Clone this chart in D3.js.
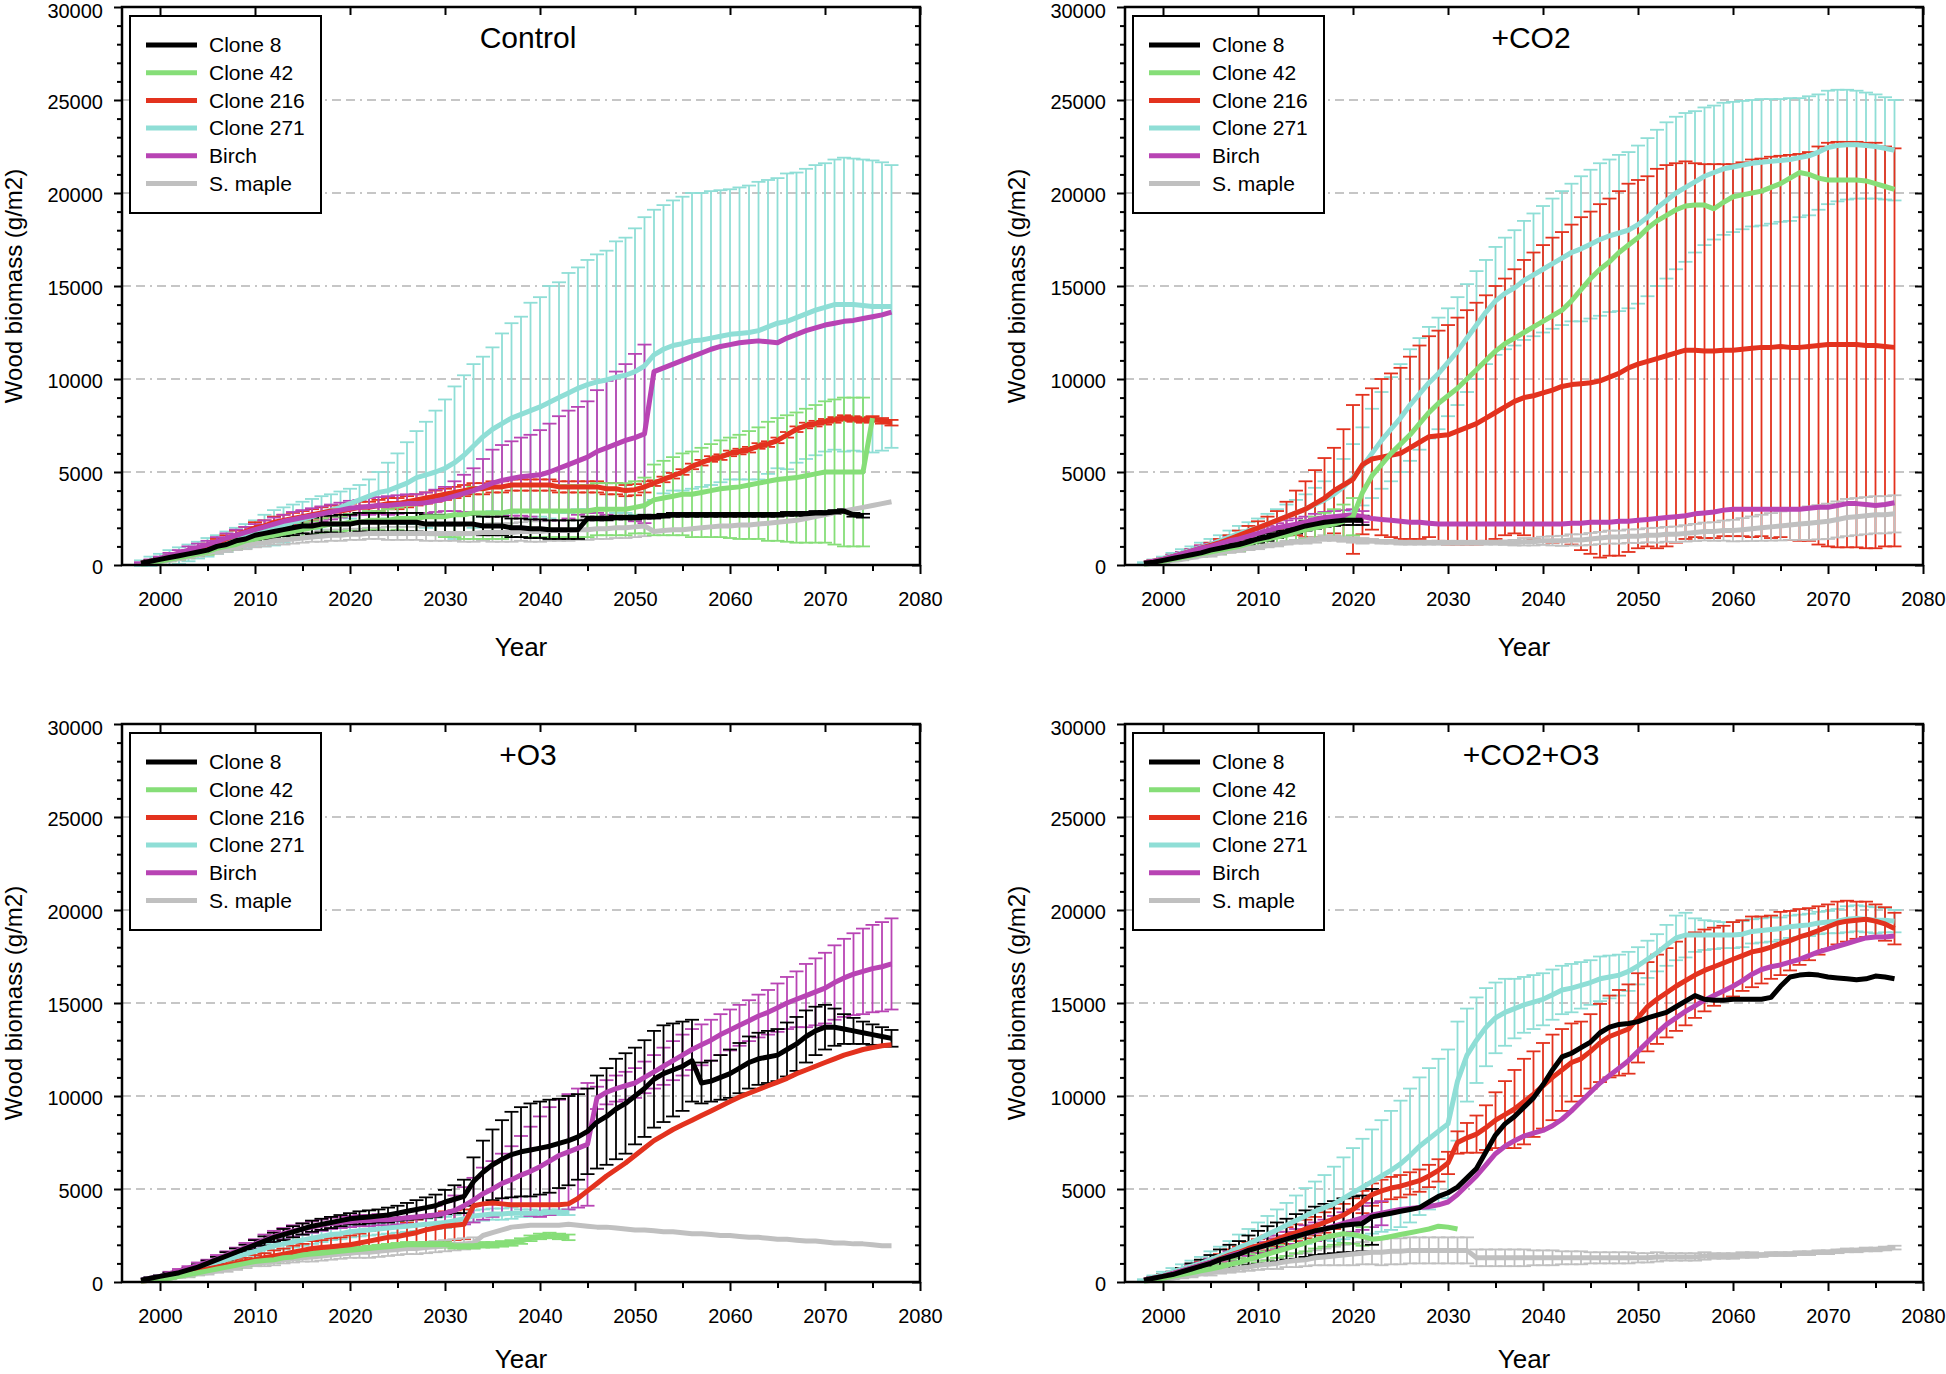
<!DOCTYPE html>
<html>
<head>
<meta charset="utf-8">
<title>Wood biomass</title>
<style>
  body { margin: 0; background: #fff; }
  svg text { font-family: "Liberation Sans", Arial, Helvetica, sans-serif; }
</style>
</head>
<body>
<script src="https://cdnjs.cloudflare.com/ajax/libs/d3/7.8.5/d3.min.js"></script>
<script>
// one value per year starting 1998, in 1000 g/m2 ; *_sd = half height of the error bar
// a series stops where its array stops
var firstYear = 1998;
var seriesNames = ["Clone 8", "Clone 42", "Clone 216", "Clone 271", "Birch", "S. maple"];
var seriesColors = ["#000000", "#86de78", "#e3321e", "#8fded6", "#b844b4", "#c0c0c0"];
var panelTitles = ["Control", "+CO2", "+O3", "+CO2+O3"];
var yMajor = [0, 5000, 10000, 15000, 20000, 25000, 30000];
var gridVals = [5000, 10000, 15000, 20000, 25000];
var xMajor = [2000, 2010, 2020, 2030, 2040, 2050, 2060, 2070, 2080];
var xMinor = [2005, 2015, 2025, 2035, 2045, 2055, 2065, 2075];

// ---------- Control ----------
var ctl_c8 = [0.1,0.2,0.3,0.4,0.5,0.6,0.7,0.8,1.0,1.1,
  1.3,1.4,1.6,1.7,1.8,1.9,2.0,2.1,2.1,2.2,
  2.2,2.2,2.2,2.3,2.3,2.3,2.3,2.3,2.3,2.3,
  2.2,2.2,2.2,2.2,2.2,2.2,2.1,2.1,2.1,2.0,
  2.0,1.95,1.95,1.9,1.9,1.9,1.9,2.5,2.5,2.5,
  2.55,2.55,2.55,2.6,2.6,2.65,2.7,2.7,2.7,2.7,
  2.7,2.7,2.7,2.7,2.7,2.7,2.7,2.7,2.75,2.75,
  2.75,2.8,2.8,2.85,2.9,2.7,2.65];
var ctl_c8_sd = [0,0.05,0.05,0.1,0.1,0.1,0.15,0.15,0.2,0.2,
  0.25,0.25,0.3,0.3,0.35,0.35,0.4,0.4,0.45,0.45,
  0.45,0.5,0.5,0.5,0.5,0.5,0.5,0.5,0.5,0.5,
  0.5,0.5,0.5,0.5,0.5,0.5,0.5,0.5,0.5,0.5,
  0.5,0.5,0.5,0.5,0.5,0.5,0.5,0.1,0.1,0.1,
  0.1,0.1,0.1,0.1,0.1,0.1,0.1,0.1,0.1,0.1,
  0.1,0.1,0.1,0.1,0.1,0.1,0.1,0.1,0.1,0.1,
  0.1,0.1,0.1,0.1,0.1,0.1,0.1];
var ctl_c42 = [0.05,0.1,0.2,0.3,0.4,0.5,0.6,0.7,0.9,1.0,
  1.1,1.3,1.4,1.5,1.6,1.7,1.8,1.9,2.0,2.1,
  2.2,2.2,2.3,2.3,2.4,2.4,2.4,2.5,2.5,2.5,
  2.6,2.6,2.6,2.7,2.7,2.8,2.8,2.8,2.8,2.9,
  2.9,2.9,2.9,2.9,2.9,2.9,2.9,2.9,3.0,3.0,
  3.0,3.0,3.1,3.2,3.5,3.6,3.7,3.8,3.8,3.9,
  4.0,4.1,4.15,4.2,4.3,4.4,4.5,4.6,4.65,4.7,
  4.8,4.9,5.0,5.0,5.0,5.0,5.0,7.9];
var ctl_c42_sd = [0,0.05,0.05,0.1,0.1,0.1,0.1,0.15,0.15,0.2,
  0.2,0.2,0.25,0.25,0.3,0.3,0.3,0.35,0.35,0.4,
  0.4,0.4,0.45,0.5,0.5,0.5,0.6,0.6,0.7,0.8,
  0.9,1.0,1.1,1.2,1.3,1.4,1.4,1.4,1.4,1.4,
  1.4,1.4,1.4,1.4,1.4,1.4,1.4,1.4,1.4,1.4,
  1.4,1.4,1.4,1.5,1.9,2.0,2.1,2.2,2.3,2.4,
  2.5,2.6,2.7,2.8,2.9,3.0,3.2,3.3,3.4,3.5,
  3.6,3.7,3.8,3.9,4.0,4.0,4.0];
var ctl_c216 = [0.1,0.2,0.3,0.4,0.5,0.7,0.8,1.0,1.2,1.4,
  1.6,1.8,2.0,2.1,2.3,2.4,2.5,2.6,2.7,2.8,
  2.9,2.9,3.0,3.1,3.1,3.2,3.3,3.3,3.4,3.5,
  3.6,3.7,3.8,3.9,4.0,4.1,4.1,4.2,4.2,4.3,
  4.3,4.3,4.3,4.3,4.2,4.2,4.2,4.2,4.2,4.1,
  4.1,4.0,4.05,4.2,4.4,4.6,4.8,5.0,5.3,5.5,
  5.7,5.8,6.0,6.1,6.2,6.4,6.5,6.7,7.0,7.3,
  7.5,7.6,7.7,7.8,7.9,7.85,7.8,7.85,7.75,7.65];
var ctl_c216_sd = [0,0.05,0.05,0.1,0.1,0.1,0.15,0.15,0.2,0.2,
  0.25,0.25,0.3,0.3,0.3,0.3,0.3,0.3,0.3,0.3,
  0.3,0.3,0.3,0.3,0.3,0.3,0.3,0.3,0.3,0.3,
  0.3,0.3,0.3,0.3,0.3,0.3,0.3,0.3,0.3,0.3,
  0.3,0.3,0.3,0.3,0.3,0.3,0.3,0.3,0.3,0.3,
  0.3,0.3,0.3,0.3,0.15,0.15,0.15,0.15,0.15,0.15,
  0.15,0.15,0.15,0.15,0.15,0.15,0.15,0.15,0.15,0.15,
  0.15,0.15,0.15,0.15,0.15,0.15,0.15,0.15,0.15,0.15];
var ctl_c271 = [0.1,0.2,0.3,0.4,0.5,0.65,0.8,0.95,1.1,1.25,
  1.4,1.55,1.7,1.85,2.0,2.15,2.3,2.45,2.6,2.8,
  2.95,3.1,3.3,3.5,3.7,3.9,4.0,4.2,4.4,4.7,
  4.85,5.0,5.2,5.5,5.9,6.4,6.9,7.3,7.6,7.9,
  8.1,8.3,8.5,8.75,9.0,9.25,9.5,9.7,9.85,9.95,
  10.1,10.2,10.4,10.7,11.3,11.6,11.8,11.9,12.05,12.1,
  12.2,12.3,12.4,12.45,12.5,12.6,12.8,13.0,13.1,13.3,
  13.5,13.7,13.85,14.0,14.0,14.0,13.95,13.9,13.9,13.9];
var ctl_c271_sd = [0.15,0.25,0.3,0.4,0.45,0.45,0.45,0.5,0.5,0.55,
  0.6,0.65,0.7,0.85,0.95,0.95,0.95,0.95,0.95,0.9,
  0.85,0.85,0.8,0.8,0.9,1.1,1.5,1.8,2.2,2.5,
  2.85,3.3,3.7,4.1,4.3,4.4,4.3,4.4,4.85,5.1,
  5.25,5.8,5.9,6.25,6.2,6.45,6.5,6.7,6.85,6.95,
  7.3,7.4,7.7,8.0,7.8,7.75,7.8,7.9,7.95,7.9,
  7.9,7.85,7.8,7.85,7.9,8.0,7.9,7.8,7.95,7.8,
  7.8,7.8,7.75,7.8,7.9,7.85,7.85,7.85,7.75,7.6];
var ctl_b = [0.1,0.2,0.35,0.5,0.65,0.8,0.95,1.1,1.25,1.45,
  1.6,1.75,1.9,2.05,2.2,2.35,2.45,2.55,2.65,2.75,
  2.85,2.95,3.05,3.1,3.15,3.2,3.2,3.25,3.3,3.3,
  3.35,3.45,3.55,3.7,3.85,4.0,4.2,4.4,4.55,4.65,
  4.75,4.8,4.85,5.0,5.2,5.4,5.6,5.8,6.1,6.3,
  6.5,6.7,6.85,7.05,10.4,10.6,10.8,11.0,11.2,11.4,
  11.6,11.75,11.85,11.95,12.0,12.05,12.0,11.95,12.2,12.4,
  12.6,12.75,12.9,13.0,13.1,13.15,13.25,13.35,13.45,13.6];
var ctl_b_sd = [0.05,0.1,0.1,0.15,0.15,0.2,0.2,0.2,0.25,0.25,
  0.3,0.3,0.3,0.35,0.35,0.35,0.4,0.4,0.4,0.4,
  0.4,0.4,0.4,0.4,0.45,0.45,0.5,0.5,0.5,0.5,
  0.55,0.6,0.65,0.8,1.0,1.2,1.5,1.8,1.9,2.0,
  2.1,2.2,2.4,2.6,2.8,2.9,2.9,3.0,3.3,3.6,
  3.9,4.1,4.5,4.8];
var ctl_m = [0.05,0.1,0.2,0.25,0.35,0.45,0.55,0.65,0.75,0.85,
  0.95,1.05,1.15,1.2,1.3,1.35,1.4,1.45,1.5,1.55,
  1.6,1.6,1.65,1.65,1.7,1.7,1.7,1.7,1.7,1.7,
  1.7,1.7,1.7,1.7,1.7,1.7,1.75,1.75,1.75,1.75,
  1.8,1.8,1.8,1.85,1.85,1.85,1.9,1.9,1.95,1.95,
  2.0,2.0,2.05,2.1,1.8,1.85,1.9,1.9,1.95,2.0,
  2.05,2.1,2.1,2.15,2.15,2.2,2.25,2.3,2.35,2.4,
  2.5,2.6,2.7,2.8,2.9,3.0,3.1,3.2,3.3,3.4];
var ctl_m_sd = [0,0.05,0.05,0.05,0.1,0.1,0.1,0.1,0.15,0.15,
  0.15,0.2,0.2,0.2,0.2,0.25,0.25,0.25,0.25,0.3,
  0.3,0.3,0.3,0.3,0.3,0.3,0.35,0.35,0.35,0.35,
  0.4,0.4,0.4,0.4,0.45,0.45,0.45,0.5,0.5,0.5,
  0.5,0.55,0.55,0.55,0.55,0.55,0.55,0.55,0.55,0.55,
  0.55,0.55,0.55,0.55];

// ---------- +CO2 ----------
var co2_c8 = [0.1,0.15,0.25,0.35,0.45,0.55,0.65,0.8,0.9,1.0,
  1.1,1.25,1.4,1.5,1.65,1.8,1.95,2.1,2.2,2.3,
  2.35,2.4,2.4,2.4];
var co2_c8_sd = [0,0.05,0.05,0.05,0.1,0.1,0.1,0.1,0.15,0.15,
  0.15,0.15,0.2,0.2,0.2,0.2,0.25,0.25,0.25,0.25,
  0.25,0.25,0.25,0.25];
var co2_c42 = [0.05,0.1,0.2,0.3,0.4,0.5,0.6,0.7,0.8,0.9,
  1.0,1.15,1.3,1.4,1.5,1.6,1.75,1.9,2.0,2.1,
  2.2,2.35,2.6,3.9,4.8,5.4,6.0,6.5,7.0,7.6,
  8.2,8.7,9.1,9.5,10.0,10.5,11.0,11.5,11.9,12.2,
  12.5,12.8,13.1,13.4,13.7,14.2,14.8,15.4,15.9,16.3,
  16.8,17.2,17.6,18.1,18.5,18.8,19.1,19.3,19.35,19.35,
  19.15,19.5,19.8,19.9,20.0,20.1,20.3,20.5,20.8,21.1,
  21.0,20.8,20.7,20.7,20.7,20.7,20.65,20.5,20.35,20.2];
var co2_c42_sd = [0,0.05,0.05,0.1,0.1,0.1,0.15,0.15,0.2,0.2,
  0.25,0.25,0.3,0.3,0.35,0.4,0.45,0.5,0.6,0.7,
  0.8,0.9,1.0];
var co2_c216 = [0.1,0.2,0.3,0.45,0.6,0.75,0.9,1.05,1.2,1.4,
  1.6,1.8,2.0,2.2,2.4,2.6,2.8,3.0,3.3,3.6,
  4.0,4.3,4.6,5.4,5.7,5.8,5.9,6.0,6.3,6.6,
  6.9,6.95,7.0,7.2,7.4,7.6,7.9,8.2,8.5,8.8,
  9.0,9.1,9.25,9.4,9.6,9.7,9.75,9.8,9.9,10.1,
  10.3,10.6,10.8,10.95,11.1,11.25,11.4,11.55,11.55,11.5,
  11.5,11.55,11.55,11.6,11.65,11.7,11.7,11.75,11.7,11.7,
  11.75,11.8,11.85,11.85,11.85,11.85,11.8,11.8,11.75,11.7];
var co2_c216_sd = [0,0.05,0.05,0.1,0.1,0.1,0.15,0.15,0.2,0.2,
  0.25,0.3,0.35,0.4,0.5,0.8,1.2,1.5,1.8,2.15,
  2.3,3.0,4.0,3.75,3.8,4.2,4.4,4.6,4.9,5.2,
  5.4,5.65,5.9,6.1,6.3,6.5,6.6,6.8,6.9,7.1,
  7.4,7.7,7.95,8.2,8.3,8.6,8.95,9.2,9.5,9.6,
  9.8,9.9,9.9,9.95,10.2,10.25,10.2,10.15,10.05,10.05,
  10.05,10.0,10.0,10.05,10.15,10.15,10.25,10.25,10.35,10.4,
  10.45,10.7,10.85,10.9,10.9,10.9,10.9,10.9,10.75,10.7];
var co2_c271 = [0.1,0.2,0.35,0.5,0.65,0.8,0.95,1.1,1.3,1.5,
  1.7,1.85,2.0,2.2,2.4,2.6,2.8,3.0,3.25,3.5,
  3.8,4.2,4.7,5.3,6.0,6.7,7.3,7.9,8.6,9.2,
  9.8,10.3,10.9,11.5,12.2,12.9,13.6,14.2,14.6,14.9,
  15.3,15.6,15.9,16.2,16.5,16.8,17.0,17.25,17.5,17.7,
  17.85,18.0,18.3,18.7,19.2,19.6,20.0,20.3,20.6,20.9,
  21.1,21.3,21.4,21.5,21.6,21.65,21.7,21.75,21.8,21.9,
  22.0,22.2,22.45,22.55,22.6,22.6,22.55,22.5,22.4,22.3];
var co2_c271_sd = [0.05,0.1,0.1,0.15,0.2,0.2,0.25,0.3,0.3,0.35,
  0.4,0.45,0.5,0.55,0.6,0.65,0.7,0.8,0.9,1.0,
  1.2,1.5,1.8,2.1,2.4,2.6,2.8,2.9,3.0,3.0,
  3.0,3.0,2.9,2.9,2.9,2.9,2.8,2.9,3.0,3.1,
  3.2,3.3,3.4,3.5,3.6,3.7,3.9,4.0,4.1,4.1,
  4.2,4.2,4.25,4.25,4.2,4.2,4.1,4.0,3.8,3.7,
  3.6,3.55,3.5,3.45,3.4,3.4,3.35,3.3,3.3,3.2,
  3.2,3.1,3.05,3.0,2.95,2.9,2.85,2.8,2.75,2.7];
var co2_b = [0.1,0.2,0.3,0.45,0.6,0.75,0.9,1.0,1.15,1.3,
  1.4,1.55,1.7,1.85,2.0,2.1,2.2,2.3,2.45,2.55,
  2.6,2.65,2.7,2.6,2.5,2.45,2.4,2.35,2.3,2.3,
  2.25,2.2,2.2,2.2,2.2,2.2,2.2,2.2,2.2,2.2,
  2.2,2.2,2.2,2.2,2.2,2.25,2.25,2.3,2.3,2.3,
  2.35,2.35,2.4,2.45,2.5,2.55,2.6,2.65,2.75,2.8,
  2.85,2.95,3.0,3.0,3.0,3.0,3.0,3.0,3.0,3.0,
  3.05,3.1,3.1,3.2,3.3,3.3,3.25,3.2,3.25,3.35];
var co2_b_sd = [0,0.05,0.05,0.1,0.1,0.1,0.15,0.15,0.15,0.2,
  0.2,0.2,0.25,0.25,0.25,0.3,0.3,0.3,0.3,0.3,
  0.3,0.3,0.3,0.3];
var co2_m = [0.05,0.1,0.15,0.25,0.3,0.4,0.5,0.55,0.65,0.75,
  0.8,0.9,0.95,1.05,1.1,1.2,1.25,1.3,1.35,1.45,
  1.45,1.4,1.35,1.3,1.3,1.25,1.25,1.2,1.2,1.2,
  1.2,1.2,1.2,1.2,1.2,1.2,1.2,1.2,1.2,1.2,
  1.25,1.25,1.3,1.3,1.3,1.35,1.35,1.4,1.45,1.5,
  1.5,1.55,1.55,1.6,1.6,1.65,1.65,1.7,1.75,1.8,
  1.8,1.85,1.85,1.9,1.95,2.0,2.05,2.1,2.15,2.2,
  2.25,2.3,2.35,2.45,2.55,2.6,2.65,2.7,2.7,2.75];
var co2_m_sd = [0,0.03,0.05,0.05,0.05,0.05,0.05,0.1,0.1,0.1,
  0.1,0.1,0.1,0.1,0.1,0.1,0.1,0.15,0.15,0.15,
  0.15,0.15,0.15,0.15,0.1,0.1,0.1,0.1,0.1,0.1,
  0.1,0.1,0.1,0.1,0.1,0.1,0.1,0.1,0.12,0.15,
  0.2,0.2,0.22,0.25,0.27,0.3,0.3,0.32,0.33,0.35,
  0.35,0.36,0.37,0.38,0.4,0.4,0.42,0.44,0.46,0.48,
  0.5,0.54,0.58,0.62,0.66,0.7,0.74,0.78,0.8,0.85,
  0.9,0.92,0.95,0.97,1.0,1.0,1.0,1.0,1.0,1.0];

// ---------- +O3 ----------
var o3_c8 = [0.1,0.2,0.3,0.4,0.5,0.65,0.8,1.0,1.2,1.4,
  1.6,1.8,2.0,2.2,2.4,2.55,2.7,2.85,3.0,3.1,
  3.2,3.3,3.4,3.45,3.5,3.55,3.6,3.7,3.8,3.9,
  4.0,4.1,4.3,4.45,4.6,5.4,5.9,6.3,6.6,6.85,
  7.0,7.1,7.2,7.3,7.45,7.6,7.8,8.1,8.6,8.9,
  9.3,9.6,10.0,10.4,10.9,11.2,11.4,11.6,11.9,10.7,
  10.8,11.0,11.2,11.5,11.8,12.0,12.1,12.2,12.5,12.8,
  13.2,13.5,13.7,13.7,13.6,13.5,13.4,13.3,13.2,13.1];
var o3_c8_sd = [0,0.05,0.05,0.1,0.1,0.1,0.15,0.15,0.15,0.2,
  0.2,0.2,0.25,0.25,0.25,0.3,0.3,0.3,0.3,0.3,
  0.3,0.3,0.3,0.35,0.35,0.35,0.4,0.4,0.45,0.5,
  0.55,0.6,0.65,0.75,0.9,1.3,1.7,1.9,2.1,2.3,
  2.4,2.5,2.5,2.5,2.4,2.4,2.3,2.3,2.5,2.6,
  2.7,2.7,2.6,2.6,2.6,2.6,2.5,2.4,2.2,1.1,
  1.1,1.2,1.3,1.35,1.4,1.4,1.4,1.4,1.45,1.45,
  1.4,1.3,1.2,1.0,0.8,0.7,0.6,0.55,0.5,0.45];
var o3_c42 = [0.05,0.1,0.15,0.2,0.3,0.4,0.5,0.6,0.7,0.8,
  0.9,1.0,1.1,1.15,1.2,1.3,1.35,1.45,1.5,1.55,
  1.6,1.65,1.7,1.75,1.8,1.85,1.9,1.95,2.0,2.0,
  2.0,2.0,2.0,1.95,1.95,1.95,2.0,2.0,2.05,2.1,
  2.2,2.35,2.45,2.5,2.45,2.4];
var o3_c42_sd = [0,0.03,0.05,0.05,0.05,0.1,0.1,0.1,0.1,0.1,
  0.15,0.15,0.15,0.15,0.15,0.15,0.15,0.15,0.15,0.15,
  0.15,0.15,0.15,0.15,0.15,0.15,0.15,0.15,0.15,0.15,
  0.15,0.15,0.15,0.15,0.15,0.15,0.15,0.15,0.15,0.15,
  0.15,0.15,0.15,0.15,0.15,0.15];
var o3_c216 = [0.05,0.1,0.2,0.3,0.4,0.5,0.6,0.7,0.8,0.9,
  1.0,1.1,1.2,1.3,1.4,1.5,1.6,1.7,1.8,1.85,
  1.9,1.95,2.0,2.1,2.2,2.3,2.4,2.45,2.55,2.65,
  2.8,2.9,3.0,3.05,3.1,4.1,4.2,4.25,4.2,4.15,
  4.15,4.15,4.15,4.15,4.15,4.2,4.5,4.9,5.3,5.7,
  6.05,6.4,6.8,7.2,7.6,7.9,8.2,8.45,8.7,8.95,
  9.2,9.45,9.7,9.95,10.15,10.35,10.55,10.75,10.95,11.2,
  11.4,11.6,11.8,12.0,12.2,12.35,12.5,12.6,12.7,12.75];
var o3_c216_sd = [0,0.05,0.05,0.05,0.1,0.1,0.1,0.15,0.15,0.2,
  0.2,0.2,0.25,0.25,0.3,0.3,0.35,0.35,0.4,0.4,
  0.45,0.45,0.5,0.5,0.55,0.55,0.6,0.6,0.65,0.7,
  0.7,0.75,0.8,0.8,0.8];
var o3_c271 = [0.1,0.2,0.3,0.4,0.5,0.6,0.75,0.9,1.05,1.2,
  1.35,1.5,1.65,1.8,1.95,2.05,2.15,2.25,2.35,2.45,
  2.55,2.6,2.7,2.75,2.8,2.85,2.9,2.95,3.0,3.05,
  3.1,3.15,3.2,3.3,3.4,3.55,3.6,3.65,3.65,3.7,
  3.7,3.7,3.7,3.75,3.75,3.75];
var o3_c271_sd = [0,0.05,0.05,0.1,0.1,0.1,0.15,0.15,0.15,0.2,
  0.2,0.2,0.25,0.25,0.25,0.3,0.3,0.3,0.3,0.3,
  0.3,0.3,0.3,0.3,0.3,0.3,0.3,0.3,0.3,0.3,
  0.3,0.3,0.3,0.3,0.3,0.3,0.3,0.3,0.3,0.3,
  0.2,0.2,0.15,0.15,0.15,0.15];
var o3_b = [0.1,0.2,0.3,0.45,0.6,0.75,0.9,1.05,1.25,1.45,
  1.65,1.85,2.05,2.25,2.45,2.6,2.75,2.85,2.95,3.05,
  3.15,3.2,3.25,3.3,3.3,3.35,3.35,3.4,3.45,3.5,
  3.55,3.6,3.7,3.85,4.1,4.4,4.75,5.0,5.3,5.5,
  5.75,5.95,6.2,6.5,6.8,7.0,7.2,7.4,9.9,10.2,
  10.4,10.55,10.7,11.0,11.3,11.6,11.9,12.2,12.5,12.75,
  13.0,13.3,13.55,13.8,14.05,14.3,14.5,14.75,15.0,15.2,
  15.4,15.6,15.8,16.1,16.35,16.55,16.7,16.85,16.95,17.1];
var o3_b_sd = [0,0.05,0.05,0.1,0.1,0.1,0.15,0.15,0.2,0.2,
  0.2,0.25,0.25,0.3,0.3,0.3,0.3,0.3,0.3,0.3,
  0.3,0.3,0.3,0.3,0.3,0.3,0.3,0.3,0.35,0.4,
  0.45,0.5,0.6,0.8,1.0,1.2,1.4,1.5,1.6,1.8,
  2.1,2.4,2.7,2.9,3.0,3.1,3.2,3.3,0.6,0.65,
  0.7,0.75,0.8,0.85,0.9,1.0,1.05,1.1,1.1,1.1,
  1.1,1.1,1.1,1.1,1.1,1.15,1.2,1.3,1.4,1.5,
  1.7,1.8,1.9,2.0,2.1,2.2,2.3,2.35,2.4,2.45];
var o3_m = [0.05,0.1,0.15,0.2,0.3,0.35,0.45,0.5,0.6,0.7,
  0.8,0.9,1.0,1.05,1.1,1.2,1.25,1.3,1.35,1.4,
  1.45,1.5,1.55,1.6,1.6,1.65,1.7,1.75,1.8,1.8,
  1.85,1.9,1.95,2.0,2.05,2.1,2.5,2.65,2.8,2.95,
  3.0,3.05,3.05,3.05,3.05,3.1,3.05,3.0,2.95,2.95,
  2.9,2.85,2.8,2.8,2.75,2.7,2.7,2.65,2.6,2.6,
  2.55,2.5,2.5,2.45,2.4,2.4,2.35,2.3,2.3,2.25,
  2.2,2.2,2.15,2.1,2.1,2.05,2.05,2.0,1.95,1.95];
var o3_m_sd = [0,0.03,0.05,0.05,0.05,0.1,0.1,0.1,0.1,0.15,
  0.15,0.15,0.15,0.2,0.2,0.2,0.2,0.2,0.25,0.25,
  0.25,0.25,0.25,0.3,0.3,0.3,0.3,0.3,0.3,0.3,
  0.3,0.3,0.3,0.3,0.3,0.3];

// ---------- +CO2+O3 ----------
var co3_c8 = [0.1,0.2,0.3,0.4,0.55,0.7,0.85,1.0,1.2,1.35,
  1.5,1.7,1.85,2.0,2.15,2.3,2.45,2.6,2.75,2.85,
  2.95,3.05,3.1,3.15,3.5,3.6,3.7,3.8,3.9,4.0,
  4.3,4.6,4.8,5.1,5.6,6.1,7.0,7.9,8.5,8.9,
  9.4,9.9,10.6,11.4,12.1,12.3,12.6,12.9,13.4,13.7,
  13.85,13.9,14.0,14.2,14.35,14.5,14.8,15.1,15.4,15.2,
  15.15,15.15,15.2,15.2,15.2,15.2,15.3,15.9,16.4,16.5,
  16.55,16.5,16.4,16.35,16.3,16.25,16.3,16.45,16.4,16.3];
var co3_c8_sd = [0,0.05,0.1,0.15,0.2,0.3,0.35,0.45,0.55,0.65,
  0.7,0.8,0.9,1.0,1.05,1.1,1.2,1.25,1.3,1.35,
  1.4,1.45,1.5,1.5,1.5];
var co3_c42 = [0.05,0.1,0.2,0.3,0.4,0.5,0.6,0.7,0.8,0.95,
  1.05,1.2,1.35,1.5,1.65,1.8,1.95,2.1,2.25,2.4,
  2.5,2.6,2.55,2.45,2.3,2.35,2.45,2.55,2.65,2.75,
  2.85,3.0,2.95,2.85];
var co3_c42_sd = [0,0.05,0.05,0.1,0.1,0.15,0.15,0.2,0.2,0.25,
  0.25,0.3,0.3,0.35,0.35,0.4,0.4,0.45,0.45,0.5,
  0.5,0.5,0.5,0.5];
var co3_c216 = [0.1,0.2,0.3,0.45,0.6,0.75,0.9,1.05,1.25,1.45,
  1.6,1.8,1.95,2.1,2.3,2.5,2.65,2.85,3.0,3.2,
  3.4,3.6,3.9,4.3,4.7,4.9,5.05,5.15,5.3,5.45,
  5.7,6.0,6.4,7.5,7.75,7.95,8.3,8.7,9.0,9.3,
  9.7,10.1,10.55,11.0,11.4,11.8,12.0,12.4,12.85,13.2,
  13.4,13.6,14.2,14.8,15.2,15.55,15.9,16.2,16.5,16.75,
  16.95,17.15,17.35,17.55,17.75,17.85,18.0,18.2,18.35,18.55,
  18.7,18.9,19.1,19.3,19.4,19.45,19.5,19.4,19.25,19.0];
var co3_c216_sd = [0,0.05,0.1,0.1,0.15,0.15,0.2,0.2,0.25,0.3,
  0.3,0.35,0.35,0.4,0.4,0.45,0.45,0.5,0.5,0.55,
  0.55,0.6,0.6,0.6,0.6,0.6,0.6,0.6,0.6,0.6,
  0.6,0.6,0.6,0.6,0.8,1.0,1.2,1.5,1.8,2.1,
  2.3,2.3,2.3,2.3,2.2,2.1,2.0,2.0,2.1,2.2,
  2.3,2.4,2.4,2.4,2.4,2.4,2.4,2.4,2.3,2.2,
  2.1,2.0,2.0,1.9,1.9,1.8,1.7,1.7,1.6,1.5,
  1.4,1.3,1.2,1.15,1.1,1.0,0.95,0.9,0.9,0.85];
var co3_c271 = [0.1,0.25,0.4,0.55,0.7,0.85,1.0,1.2,1.4,1.6,
  1.85,2.05,2.3,2.55,2.8,3.05,3.3,3.55,3.8,4.0,
  4.2,4.5,4.8,5.1,5.4,5.7,6.0,6.35,6.8,7.3,
  7.7,8.1,8.5,10.8,12.2,13.0,13.7,14.2,14.5,14.7,
  14.9,15.05,15.2,15.45,15.7,15.8,15.95,16.1,16.3,16.4,
  16.5,16.7,17.0,17.35,17.7,18.1,18.5,18.65,18.65,18.65,
  18.65,18.65,18.65,18.7,18.85,18.9,18.95,19.0,19.1,19.15,
  19.2,19.3,19.35,19.4,19.5,19.55,19.5,19.45,19.45,19.4];
var co3_c271_sd = [0.05,0.1,0.15,0.2,0.25,0.3,0.35,0.45,0.5,0.6,
  0.7,0.8,0.9,1.0,1.1,1.2,1.35,1.5,1.6,1.75,
  2.0,2.2,2.4,2.6,2.8,3.0,3.2,3.4,3.6,3.7,
  3.8,3.9,4.0,3.2,2.5,2.3,2.1,1.9,1.8,1.6,
  1.5,1.45,1.4,1.35,1.3,1.3,1.25,1.2,1.2,1.15,
  1.1,1.05,1.0,1.0,1.0,1.1,1.2,1.2,0.9,0.8,
  0.75,0.7,0.7,0.7,0.65,0.65,0.65,0.6,0.6,0.6,
  0.6,0.6,0.6,0.65,0.7,0.7,0.7,0.7,0.65,0.6];
var co3_b = [0.1,0.2,0.3,0.45,0.6,0.75,0.9,1.05,1.2,1.4,
  1.55,1.7,1.85,2.0,2.15,2.3,2.45,2.6,2.7,2.85,
  3.0,3.15,3.3,3.45,3.6,3.7,3.8,3.9,3.95,4.0,
  4.05,4.15,4.3,4.7,5.2,5.7,6.3,6.9,7.3,7.6,
  7.85,8.0,8.15,8.4,8.75,9.2,9.7,10.2,10.7,11.1,
  11.5,11.9,12.4,12.9,13.4,13.85,14.2,14.55,14.85,15.15,
  15.4,15.65,15.9,16.2,16.55,16.8,16.95,17.05,17.2,17.35,
  17.55,17.75,17.9,18.05,18.2,18.35,18.5,18.55,18.55,18.6];
var co3_b_sd = [0,0.05,0.05,0.1,0.1,0.15,0.15,0.2,0.2,0.25,
  0.25,0.3,0.3,0.35,0.35,0.4,0.4,0.45,0.5,0.5,
  0.55,0.6,0.6,0.65,0.65,0.65];
var co3_m = [0.05,0.1,0.15,0.2,0.3,0.35,0.45,0.5,0.6,0.65,
  0.75,0.8,0.9,0.95,1.0,1.1,1.15,1.2,1.3,1.35,
  1.4,1.45,1.5,1.55,1.6,1.6,1.65,1.65,1.7,1.7,
  1.7,1.7,1.7,1.7,1.7,1.3,1.3,1.3,1.3,1.3,
  1.3,1.3,1.3,1.3,1.3,1.3,1.3,1.3,1.3,1.3,
  1.3,1.3,1.3,1.3,1.35,1.35,1.35,1.35,1.35,1.4,
  1.4,1.4,1.4,1.45,1.45,1.45,1.5,1.5,1.5,1.55,
  1.55,1.6,1.6,1.65,1.7,1.7,1.75,1.75,1.8,1.85];
var co3_m_sd = [0,0.05,0.05,0.05,0.1,0.1,0.1,0.15,0.15,0.15,
  0.2,0.2,0.25,0.25,0.3,0.3,0.35,0.35,0.4,0.45,
  0.5,0.55,0.6,0.6,0.65,0.7,0.7,0.7,0.7,0.7,
  0.7,0.7,0.7,0.7,0.7,0.45,0.45,0.45,0.45,0.45,
  0.45,0.4,0.4,0.4,0.35,0.35,0.35,0.3,0.3,0.3,
  0.3,0.3,0.25,0.25,0.25,0.2,0.2,0.2,0.2,0.2,
  0.15,0.15,0.15,0.15,0.15,0.1,0.1,0.1,0.1,0.1,
  0.1,0.1,0.1,0.1,0.1,0.1,0.1,0.1,0.1,0.1];

var panels = [
  { title: panelTitles[0], mean: [ctl_c8, ctl_c42, ctl_c216, ctl_c271, ctl_b, ctl_m],
    sd: [ctl_c8_sd, ctl_c42_sd, ctl_c216_sd, ctl_c271_sd, ctl_b_sd, ctl_m_sd] },
  { title: panelTitles[1], mean: [co2_c8, co2_c42, co2_c216, co2_c271, co2_b, co2_m],
    sd: [co2_c8_sd, co2_c42_sd, co2_c216_sd, co2_c271_sd, co2_b_sd, co2_m_sd] },
  { title: panelTitles[2], mean: [o3_c8, o3_c42, o3_c216, o3_c271, o3_b, o3_m],
    sd: [o3_c8_sd, o3_c42_sd, o3_c216_sd, o3_c271_sd, o3_b_sd, o3_m_sd] },
  { title: panelTitles[3], mean: [co3_c8, co3_c42, co3_c216, co3_c271, co3_b, co3_m],
    sd: [co3_c8_sd, co3_c42_sd, co3_c216_sd, co3_c271_sd, co3_b_sd, co3_m_sd] }
];

// layout
var W = 798, H = 558;
var panelPos = [[122, 7], [1125, 7], [122, 724], [1125, 724]];
var drawOrder = [3, 2, 5, 4, 1, 0];   // later = on top

var svg = d3.select('body').append('svg')
  .attr('width', 1946).attr('height', 1374);
svg.append('rect').attr('width', 1946).attr('height', 1374).attr('fill', '#fff');

var x = d3.scaleLinear().domain([1996, 2080]).range([0, W]);
var y = d3.scaleLinear().domain([0, 30000]).range([H, 0]);
var yMinor = d3.range(1000, 30000, 1000).filter(function(v){ return v % 5000 != 0; });

function toPoints(meanArr, sdArr) {
  return meanArr.map(function(v, j) {
    return { year: firstYear + j, v: v * 1000, sd: (sdArr[j] || 0) * 1000 };
  });
}

function styleAxis(sel) {
  sel.attr('font-size', 20);
  sel.selectAll('.tick line').attr('stroke', '#000').attr('stroke-width', 2);
  sel.select('.domain').remove();
  sel.selectAll('text').attr('fill', '#000');
}

panels.forEach(function(p, k) {
  var g = svg.append('g').attr('transform', 'translate(' + panelPos[k][0] + ',' + panelPos[k][1] + ')');

  // dashed grid
  g.append('g').selectAll('line').data(gridVals).join('line')
    .attr('x1', 0).attr('x2', W)
    .attr('y1', function(d){ return y(d); }).attr('y2', function(d){ return y(d); })
    .attr('stroke', '#b4b4b4').attr('stroke-width', 1.6)
    .attr('stroke-dasharray', '9,5,9,5,2,5');

  var series = p.mean.map(function(arr, i){ return toPoints(arr, p.sd[i]); });

  // error bars
  drawOrder.forEach(function(i) {
    var pts = series[i].filter(function(d){ return d.sd > 0; });
    var eg = g.append('g').attr('stroke', seriesColors[i]).attr('stroke-width', 1.8);
    eg.selectAll('line.v').data(pts).join('line').attr('class', 'v')
      .attr('x1', function(d){ return x(d.year); }).attr('x2', function(d){ return x(d.year); })
      .attr('y1', function(d){ return y(d.v - d.sd); }).attr('y2', function(d){ return y(d.v + d.sd); });
    eg.selectAll('line.t').data(pts).join('line').attr('class', 't')
      .attr('x1', function(d){ return x(d.year) - 7; }).attr('x2', function(d){ return x(d.year) + 7; })
      .attr('y1', function(d){ return y(d.v + d.sd); }).attr('y2', function(d){ return y(d.v + d.sd); });
    eg.selectAll('line.b').data(pts).join('line').attr('class', 'b')
      .attr('x1', function(d){ return x(d.year) - 7; }).attr('x2', function(d){ return x(d.year) + 7; })
      .attr('y1', function(d){ return y(d.v - d.sd); }).attr('y2', function(d){ return y(d.v - d.sd); });
  });

  // mean lines
  var line = d3.line().x(function(d){ return x(d.year); }).y(function(d){ return y(d.v); });
  drawOrder.forEach(function(i) {
    g.append('path').datum(series[i]).attr('d', line)
      .attr('fill', 'none').attr('stroke', seriesColors[i])
      .attr('stroke-width', 5).attr('stroke-linejoin', 'round');
  });

  // axes
  var yl = g.append('g').call(d3.axisLeft(y).tickValues(yMajor).tickSize(8).tickPadding(11).tickFormat(d3.format('d'))).call(styleAxis);
  yl.selectAll('text').attr('dy', function(d){ return d === 30000 ? '0.54em' : '0.42em'; });
  g.append('g').call(d3.axisLeft(y).tickValues(yMinor).tickSize(5).tickFormat('')).call(styleAxis);
  g.append('g').attr('transform', 'translate(' + W + ',0)')
    .call(d3.axisRight(y).tickValues(yMajor).tickSize(-8).tickFormat('')).call(styleAxis);
  g.append('g').attr('transform', 'translate(' + W + ',0)')
    .call(d3.axisRight(y).tickValues(yMinor).tickSize(-5).tickFormat('')).call(styleAxis);
  g.append('g').call(d3.axisTop(x).tickValues(xMajor).tickSize(-8).tickFormat('')).call(styleAxis);
  g.append('g').attr('transform', 'translate(0,' + H + ')')
    .call(d3.axisBottom(x).tickValues(xMajor).tickSize(9).tickPadding(18).tickFormat(d3.format('d'))).call(styleAxis);
  g.append('g').attr('transform', 'translate(0,' + H + ')')
    .call(d3.axisBottom(x).tickValues(xMinor).tickSize(6).tickFormat('')).call(styleAxis);

  // frame
  g.append('rect').attr('width', W).attr('height', H)
    .attr('fill', 'none').attr('stroke', '#000').attr('stroke-width', 2.5);

  // legend
  var lg = g.append('g').attr('transform', 'translate(8,9)');
  lg.append('rect').attr('width', 191).attr('height', 197)
    .attr('fill', '#fff').attr('stroke', '#000').attr('stroke-width', 2);
  seriesNames.forEach(function(name, i) {
    var yy = 29 + i * 27.7;
    lg.append('line').attr('x1', 16).attr('x2', 67).attr('y1', yy).attr('y2', yy)
      .attr('stroke', seriesColors[i]).attr('stroke-width', 5);
    lg.append('text').attr('x', 79).attr('y', yy).attr('dy', '0.35em')
      .attr('font-size', 21).text(name);
  });

  // title and axis titles
  g.append('text').attr('x', W / 2 + 7).attr('y', 41).attr('text-anchor', 'middle')
    .attr('font-size', 30).text(p.title);
  g.append('text').attr('transform', 'translate(-108,' + (H / 2) + ') rotate(-90)')
    .attr('text-anchor', 'middle').attr('dy', '0.35em').attr('font-size', 24)
    .text('Wood biomass (g/m2)');
  g.append('text').attr('x', W / 2).attr('y', H + (k < 2 ? 82 : 77)).attr('dy', '0.35em')
    .attr('text-anchor', 'middle').attr('font-size', 26).text('Year');
});
</script>
</body>
</html>
